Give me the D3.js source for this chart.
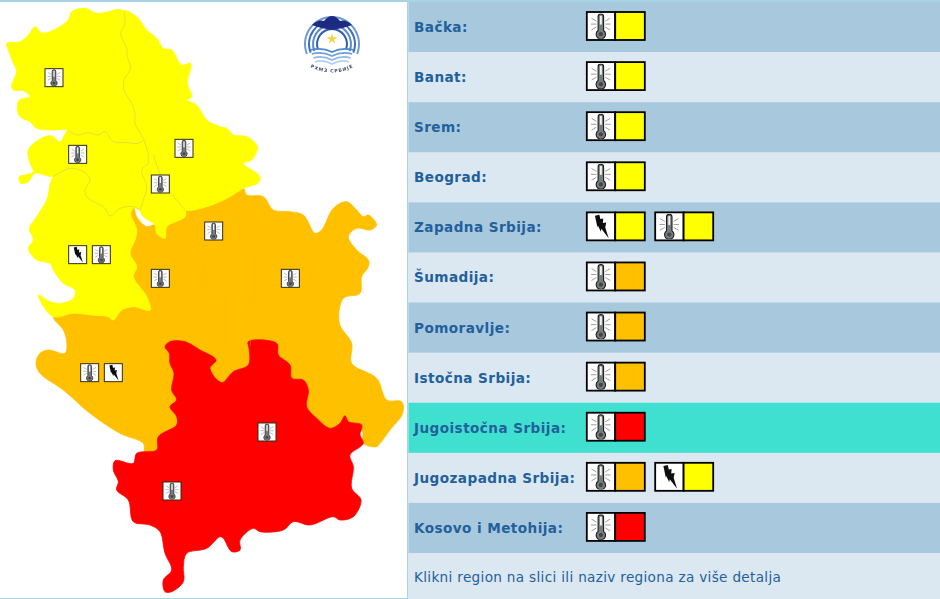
<!DOCTYPE html>
<html><head><meta charset="utf-8">
<script src="https://d3js.org/d3.v7.min.js"></script>
<style>html,body{margin:0;padding:0;background:#fff;overflow:hidden}svg{display:block}</style>
</head><body><svg id="c" width="940" height="599"></svg>
<script>
// ---------- data ----------
const regionNames=["Bačka","Banat","Srem","Beograd","Zapadna Srbija","Šumadija","Pomoravlje","Istočna Srbija","Jugoistočna Srbija","Jugozapadna Srbija","Kosovo i Metohija"];
const warnings=[
 [["heat",1]],[["heat",1]],[["heat",1]],[["heat",1]],
 [["storm",1],["heat",1]],
 [["heat",2]],[["heat",2]],[["heat",2]],
 [["heat",3]],
 [["heat",2],["storm",1]],
 [["heat",3]]];
const levelColors=["#ffffff","#ffff00","#ffc000","#ff0000"];
const footerText="Klikni region na slici ili naziv regiona za više detalja";
const highlighted="Jugoistočna Srbija";
// map outlines in tracing units
const outlineBacka=[[20,130],[60,125],[85,105],[105,80],[125,98],[150,95],[205,60],[215,35],[255,25],[290,40],[325,35],[355,28],[372,35],[375,70],[362,100],[380,145],[382,170],[392,205],[372,240],[372,270],[395,310],[405,340],[405,370],[432,420],[415,430],[380,428],[340,425],[315,395],[295,405],[265,398],[230,405],[205,390],[150,390],[110,385],[90,365],[60,350],[52,325],[58,300],[90,290],[70,272],[40,270],[35,255],[50,215],[40,190],[25,150]];
const outlineBanat=[[372,32],[410,50],[440,90],[470,115],[490,145],[515,150],[545,195],[572,190],[562,250],[575,290],[560,300],[590,315],[620,360],[660,380],[680,385],[700,405],[740,410],[772,440],[755,480],[730,490],[780,530],[775,548],[730,565],[690,590],[620,620],[555,630],[530,600],[505,570],[480,520],[460,465],[445,465],[432,420],[405,370],[405,340],[395,310],[372,270],[372,240],[392,205],[382,170],[380,145],[362,100],[375,70]];
const outlineSrem=[[85,450],[130,412],[155,408],[180,425],[205,390],[230,405],[265,398],[295,405],[315,395],[340,425],[380,428],[415,430],[432,420],[445,465],[445,490],[425,510],[440,560],[430,600],[420,630],[400,620],[360,625],[330,648],[315,625],[260,590],[255,570],[270,540],[250,515],[210,505],[160,530],[105,520],[85,545],[62,550],[58,530],[75,525],[100,515],[90,490]];
const outlineBeograd=[[445,465],[460,465],[480,520],[505,570],[530,600],[555,630],[555,650],[500,680],[495,715],[470,700],[465,675],[430,650],[420,630],[430,600],[440,560],[425,510],[445,490]];
const outlineZapadna=[[160,530],[210,505],[250,515],[270,540],[255,570],[260,590],[315,625],[330,648],[360,625],[400,620],[392,640],[410,690],[405,720],[390,760],[410,800],[400,830],[440,890],[450,930],[400,920],[365,930],[340,960],[325,950],[275,945],[220,940],[160,950],[125,910],[115,885],[150,905],[185,910],[220,895],[225,870],[190,850],[160,810],[150,790],[110,780],[85,745],[100,720],[88,685],[110,650],[140,600]];
const outlineOrange=[[400,620],[410,650],[440,680],[465,675],[470,700],[495,715],[500,680],[555,650],[555,630],[620,620],[690,590],[730,565],[740,585],[790,590],[820,630],[870,635],[910,645],[945,700],[965,690],[1000,625],[1040,605],[1070,630],[1090,650],[1105,645],[1130,675],[1110,690],[1070,685],[1045,710],[1070,750],[1105,780],[1105,800],[1085,830],[1080,880],[1030,895],[1018,970],[1055,1030],[1055,1090],[1130,1135],[1160,1200],[1205,1205],[1208,1240],[1170,1290],[1140,1330],[1130,1340],[1090,1330],[1085,1290],[950,1290],[800,1250],[600,1250],[530,1300],[470,1360],[435,1360],[430,1330],[360,1300],[270,1240],[190,1170],[120,1120],[108,1090],[120,1060],[145,1050],[195,1060],[200,1025],[190,990],[160,950],[220,940],[275,945],[325,950],[340,960],[365,930],[400,920],[450,930],[440,890],[400,830],[410,800],[390,760],[405,720],[410,690],[392,640]];
const outlineRed=[[495,1040],[510,1025],[555,1025],[600,1050],[648,1080],[630,1105],[665,1148],[700,1115],[745,1095],[748,1050],[745,1025],[830,1030],[835,1065],[870,1095],[875,1135],[910,1140],[925,1170],[920,1220],[950,1255],[990,1285],[1020,1270],[1035,1247],[1045,1265],[1085,1275],[1080,1305],[1090,1330],[1050,1365],[1060,1400],[1055,1465],[1083,1500],[1060,1550],[1020,1560],[1000,1550],[930,1575],[880,1565],[850,1590],[780,1595],[760,1585],[720,1620],[720,1650],[695,1655],[670,1615],[660,1610],[620,1645],[560,1660],[550,1700],[550,1745],[515,1775],[495,1775],[490,1740],[515,1710],[495,1660],[480,1595],[450,1575],[400,1565],[385,1500],[350,1470],[355,1445],[340,1410],[345,1382],[400,1390],[410,1360],[470,1350],[475,1310],[530,1275],[530,1250],[510,1220],[530,1200],[515,1170],[522,1120],[510,1090],[508,1060]];
const inner1=[[610,690],[609,855],[675,885],[675,1035]];
const inner2=[[810,630],[800,720],[765,765],[765,900],[750,1040]];
const borderBackaBanat=[[372,35],[375,70],[362,100],[380,145],[382,170],[392,205],[372,240],[372,270],[395,310],[405,340],[405,370],[432,420],[445,465]];
const borderBackaSrem=[[205,390],[230,405],[265,398],[295,405],[315,395],[340,425],[380,428],[415,430],[432,420]];
const borderSremZapadna=[[160,530],[210,505],[250,515],[270,540],[255,570],[260,590],[315,625],[330,648],[360,625],[400,620],[420,630]];
const borderBeogradSrem=[[445,465],[445,490],[425,510],[440,560],[430,600],[420,630]];
const borderBeogradBanat=[[460,465],[480,520],[505,570],[530,600],[555,630]];
const mapShapes=[
 {pts:outlineOrange,level:2},
 {pts:outlineRed,level:3},
 {pts:outlineZapadna,level:1},
 {pts:outlineBeograd,level:1},
 {pts:outlineSrem,level:1},
 {pts:outlineBacka,level:1},
 {pts:outlineBanat,level:1}];
const yellowBorders=[borderBackaBanat,borderBackaSrem,borderSremZapadna,borderBeogradSrem,borderBeogradBanat];
const markers=[["heat",162,233],["heat",233,463],["heat",552,445],["heat",481,552],["storm",233,764],["heat",304,764],["heat",641,693],["heat",481,835],["heat",871,835],["heat",269,1118],["storm",340,1118],["heat",801,1296],["heat",516,1473]];
const logoRings=[28,24,20,16];
const logoWaves=[8,12,16,20];

// ---------- scales ----------
const svg=d3.select("#c");
const W=940,H=599;
const mx=d3.scaleLinear().domain([0,1230]).range([0,410]);
const my=d3.scaleLinear().domain([0,1797]).range([0,599]);
const color=d3.scaleOrdinal().domain([0,1,2,3]).range(levelColors);
const row=d3.scaleBand().domain(regionNames).range([2,553]);
const line=d3.line().x(d=>mx(d[0])).y(d=>my(d[1]));
const border=d3.line().x(d=>mx(d[0])).y(d=>my(d[1])).curve(d3.curveCatmullRom.alpha(.5));
const shape=d3.line().x(d=>mx(d[0])).y(d=>my(d[1])).curve(d3.curveCatmullRomClosed.alpha(.5));

const defs=svg.append("defs");
defs.append("filter").attr("id","soft").append("feGaussianBlur").attr("stdDeviation",.6);
defs.append("filter").attr("id","soft2").append("feGaussianBlur").attr("stdDeviation",.35);
defs.append("filter").attr("id","soft3").append("feGaussianBlur").attr("stdDeviation",.25);

// symbols, 26 unit box
const heat=defs.append("symbol").attr("id","heat").attr("viewBox","0 0 26 26");
heat.append("path").attr("d","M3.5 5L8.5 8M3 11H8.5M3.5 17L8.5 14M22.5 5L17.5 8M23 11H17.5M22.5 17L17.5 14").attr("stroke","#9a9a9a").attr("stroke-width",1).attr("fill","none");
heat.append("path").attr("d","M10.2 3.5a2.8 2.8 0 0 1 5.6 0V17.5a4.8 4.8 0 1 1 -5.6 0Z").attr("fill","#777b7e").attr("stroke","#1c1c1c").attr("stroke-width",1.1);
heat.append("rect").attr("x",12).attr("y",2.5).attr("width",2).attr("height",9).attr("fill","#f2f2f2");
heat.append("circle").attr("cx",13).attr("cy",21.3).attr("r",2.2).attr("fill","#444");
const storm=defs.append("symbol").attr("id","storm").attr("viewBox","0 0 26 26");
storm.append("path").attr("d","M7 2L11.5 1L12.5 5.5L15.5 5L15 9.5L18.5 9L17.5 14L21 25L13.5 15.5L13 18.5L10 12L9.5 14Z").attr("fill","#111");

// ---------- left panel ----------
const map=svg.append("g").attr("filter","url(#soft2)");
map.selectAll("path.r").data(mapShapes).join("path").attr("class","r")
  .attr("d",d=>shape(d.pts)).attr("fill",d=>color(d.level)).attr("stroke",d=>color(d.level))
  .attr("stroke-width",.8).attr("stroke-linejoin","round");
map.selectAll("path.b").data(yellowBorders).join("path").attr("class","b")
  .attr("d",border).attr("fill","none").attr("stroke","#d8d840").attr("stroke-width",.8);
map.selectAll("path.i").data([inner1,inner2]).join("path").attr("class","i")
  .attr("d",line).attr("fill","none").attr("stroke","#f4bb20").attr("stroke-width",.6).attr("opacity",.6);
const mk=svg.append("g").attr("filter","url(#soft3)").selectAll("g").data(markers).join("g")
  .attr("transform",d=>`translate(${mx(d[1])-9.5},${my(d[2])-9.5})`);
mk.append("rect").attr("x",.5).attr("y",.5).attr("width",18).attr("height",18).attr("fill","#fff").attr("stroke","#332c10").attr("stroke-width",1);
mk.append("use").attr("href",d=>"#"+d[0]).attr("x",1).attr("y",1).attr("width",17).attr("height",17);

// logo
const logo=svg.append("g").attr("transform","translate(332,44)").attr("filter","url(#soft)");
logo.selectAll("path.a").data(logoRings).join("path").attr("class","a")
 .attr("d",r=>d3.arc()({innerRadius:r-2,outerRadius:r,startAngle:-1.95,endAngle:1.95}))
 .attr("fill",(d,i)=>["#6f9bd6","#3f6fc0","#5b8bd0","#2f5fb0"][i]);
logo.selectAll("path.w").data(logoWaves).join("path").attr("class","w")
 .attr("d",d=>`M${-25+d*.4} ${d-2}Q${-10} ${d-5} 0 ${d}Q${10} ${d-5} ${25-d*.4} ${d-2}`)
 .attr("fill","none").attr("stroke",(d,i)=>["#4f86cf","#6fa0dc","#8fb8e6","#b5d2ef"][i]).attr("stroke-width",1.7);
logo.append("path").attr("d","M-20 -19Q-14 -25 -8 -23Q-4 -28 0 -28Q4 -28 8 -23Q14 -25 20 -19Q10 -15 0 -14Q-10 -15 -20 -19Z").attr("fill","#1c2a82");
logo.append("path").attr("d",d3.symbol(d3.symbolStar,34)()).attr("transform","translate(0,-5)").attr("fill","#f5d23f");
defs.append("path").attr("id","logoArc").attr("d","M-22 23Q0 34 22 23");
logo.append("text").attr("font-family","DejaVu Sans").attr("font-size",4.6).attr("font-weight","bold").attr("letter-spacing",.9).attr("fill","#3c4a68")
 .append("textPath").attr("href","#logoArc").attr("startOffset","50%").attr("text-anchor","middle").text("РХМЗ СРБИЈЕ");

// frame
svg.append("rect").attr("x",0).attr("y",0).attr("width",W).attr("height",2).attr("fill","#a8d3e4");
svg.append("rect").attr("x",0).attr("y",598).attr("width",408).attr("height",1).attr("fill","#a8d3e4");
svg.append("rect").attr("x",407).attr("y",0).attr("width",1.5).attr("height",H).attr("fill","#a8d3e4");

// ---------- right panel ----------
const rows=svg.append("g").selectAll("g").data(regionNames).join("g").attr("transform",d=>`translate(408.5,${row(d)})`);
rows.append("rect").attr("width",W-408.5).attr("height",row.bandwidth()+.5)
 .attr("fill",(d,i)=>d===highlighted?"#40e0d0":(i%2?"#dbe8f1":"#a8c9dd"));
rows.append("text").attr("x",5.5).attr("y",row.bandwidth()/2+5).text(d=>d+":")
 .attr("font-family","Verdana, 'DejaVu Sans'").attr("font-weight","bold").attr("font-size",13.6).attr("letter-spacing",.43).attr("fill","#22609c");
const icon=rows.selectAll("g.w").data((d,i)=>warnings[i]).join("g").attr("class","w")
 .attr("filter","url(#soft3)")
 .attr("transform",(d,i)=>`translate(${177.8+i*68.4},9.5)`);
icon.append("rect").attr("x",.5).attr("y",.5).attr("width",28.4).attr("height",28).attr("fill","#fff").attr("stroke","#000").attr("stroke-width",1.8);
icon.append("rect").attr("x",28.9).attr("y",.5).attr("width",29.6).attr("height",28).attr("fill",d=>color(d[1])).attr("stroke","#000").attr("stroke-width",1.8);
icon.append("use").attr("href",d=>"#"+d[0]).attr("x",1.8).attr("y",1.8).attr("width",25.5).attr("height",25.5);
svg.append("rect").attr("x",408.5).attr("y",553).attr("width",W-408.5).attr("height",46).attr("fill","#dbe8f1");
svg.append("text").attr("x",414).attr("y",581.5).text(footerText)
 .attr("font-family","Verdana, 'DejaVu Sans'").attr("font-size",13.6).attr("letter-spacing",.32).attr("fill","#22609c");
</script></body></html>
